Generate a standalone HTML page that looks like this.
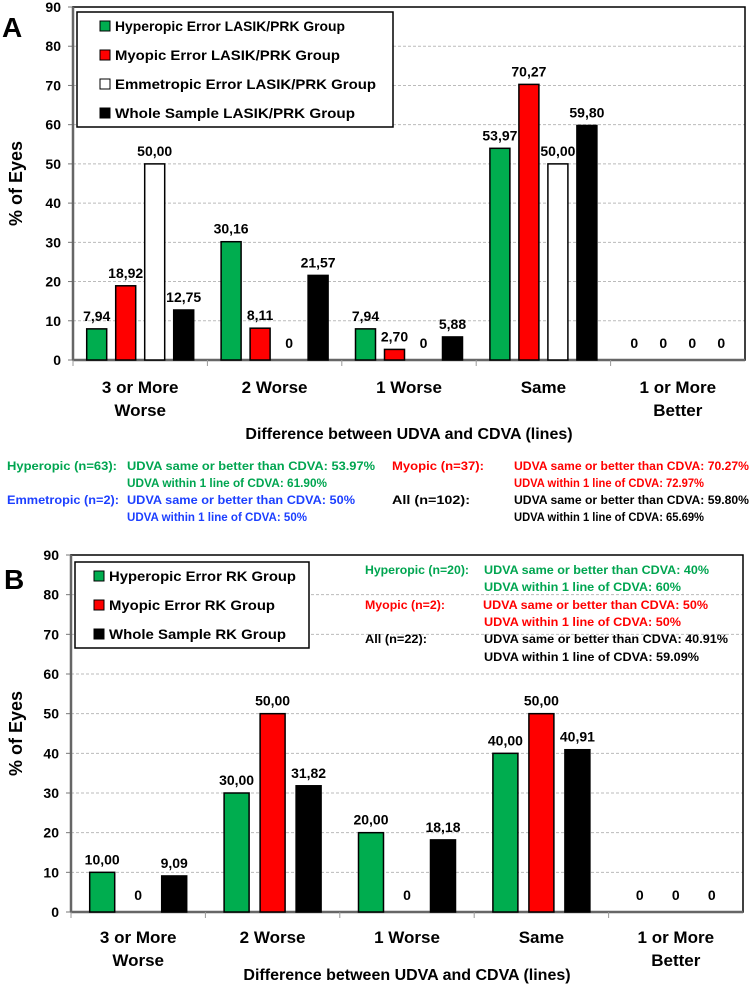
<!DOCTYPE html>
<html><head><meta charset="utf-8">
<style>
html,body{margin:0;padding:0;background:#fff;}
svg{display:block;font-family:"Liberation Sans",Arial,sans-serif;font-weight:bold;}
</style></head>
<body>
<svg id="fig" width="750" height="985" viewBox="0 0 750 985" xmlns="http://www.w3.org/2000/svg">
  <text x="2" y="37" font-size="28">A</text>
  <text x="4" y="589" font-size="28">B</text>
  <g id="chartA"></g>
  <g id="chartB"></g>

  <g font-size="12">
    <text x="7" y="470" fill="#00a550" textLength="110" lengthAdjust="spacingAndGlyphs">Hyperopic (n=63):</text>
    <text x="127" y="470" fill="#00a550" textLength="248" lengthAdjust="spacingAndGlyphs">UDVA same or better than CDVA: 53.97%</text>
    <text x="127" y="487" fill="#00a550" textLength="200" lengthAdjust="spacingAndGlyphs">UDVA within 1 line of CDVA: 61.90%</text>
    <text x="7" y="504" fill="#1c3fff" textLength="112" lengthAdjust="spacingAndGlyphs">Emmetropic (n=2):</text>
    <text x="127" y="504" fill="#1c3fff" textLength="228" lengthAdjust="spacingAndGlyphs">UDVA same or better than CDVA: 50%</text>
    <text x="127" y="521" fill="#1c3fff" textLength="180" lengthAdjust="spacingAndGlyphs">UDVA within 1 line of CDVA: 50%</text>
    <text x="392" y="470" fill="#ff0000" textLength="92" lengthAdjust="spacingAndGlyphs">Myopic (n=37):</text>
    <text x="514" y="470" fill="#ff0000" textLength="235" lengthAdjust="spacingAndGlyphs">UDVA same or better than CDVA: 70.27%</text>
    <text x="514" y="487" fill="#ff0000" textLength="190" lengthAdjust="spacingAndGlyphs">UDVA within 1 line of CDVA: 72.97%</text>
    <text x="392" y="504" fill="#000" textLength="78" lengthAdjust="spacingAndGlyphs">All (n=102):</text>
    <text x="514" y="504" fill="#000" textLength="235" lengthAdjust="spacingAndGlyphs">UDVA same or better than CDVA: 59.80%</text>
    <text x="514" y="521" fill="#000" textLength="190" lengthAdjust="spacingAndGlyphs">UDVA within 1 line of CDVA: 65.69%</text>
  </g>

  <g font-size="12">
    <text x="365" y="574" fill="#00a550" textLength="104" lengthAdjust="spacingAndGlyphs">Hyperopic (n=20):</text>
    <text x="484" y="574" fill="#00a550" textLength="225" lengthAdjust="spacingAndGlyphs">UDVA same or better than CDVA: 40%</text>
    <text x="484" y="591" fill="#00a550" textLength="197" lengthAdjust="spacingAndGlyphs">UDVA within 1 line of CDVA: 60%</text>
    <text x="365" y="609" fill="#ff0000" textLength="80" lengthAdjust="spacingAndGlyphs">Myopic (n=2):</text>
    <text x="483" y="609" fill="#ff0000" textLength="225" lengthAdjust="spacingAndGlyphs">UDVA same or better than CDVA: 50%</text>
    <text x="484" y="626" fill="#ff0000" textLength="197" lengthAdjust="spacingAndGlyphs">UDVA within 1 line of CDVA: 50%</text>
    <text x="365" y="643" fill="#000" textLength="62" lengthAdjust="spacingAndGlyphs">All (n=22):</text>
    <text x="484" y="643" fill="#000" textLength="244" lengthAdjust="spacingAndGlyphs">UDVA same or better than CDVA: 40.91%</text>
    <text x="484" y="661" fill="#000" textLength="215" lengthAdjust="spacingAndGlyphs">UDVA within 1 line of CDVA: 59.09%</text>
  </g>
</svg>
<script>
const categories = [["3 or More","Worse"],["2 Worse"],["1 Worse"],["Same"],["1 or More","Better"]];
const yTicks = [0,10,20,30,40,50,60,70,80,90];
const seriesANames = ["Hyperopic Error LASIK/PRK Group","Myopic Error LASIK/PRK Group","Emmetropic Error LASIK/PRK Group","Whole Sample LASIK/PRK Group"];
const hyperA = [7.94,30.16,7.94,53.97,0];
const myopA = [18.92,8.11,2.70,70.27,0];
const emmetA = [50.00,0,0,50.00,0];
const wholeA = [12.75,21.57,5.88,59.80,0];
const seriesBNames = ["Hyperopic Error RK Group","Myopic Error RK Group","Whole Sample RK Group"];
const hyperB = [10.00,30.00,20.00,40.00,0];
const myopB = [0,50.00,0,50.00,0];
const wholeB = [9.09,31.82,18.18,40.91,0];

const NS = "http://www.w3.org/2000/svg";
function mk(parent, tag, attrs, txt){
  const e = document.createElementNS(NS, tag);
  for (const k in attrs) e.setAttribute(k, attrs[k]);
  if (txt !== undefined) e.textContent = txt;
  parent.appendChild(e);
  return e;
}
function fmt(v){ return v === 0 ? "0" : v.toFixed(2).replace(".", ","); }

function drawChart(g, cfg){
  const {left, right, top, zero, series, colors, names, barW, gap, legend, catY, titleY, prefix} = cfg;
  const yScale = v => zero - (zero - top) * v / 90;
  const catW = (right - left) / categories.length;
  const xCat = i => left + i * catW;
  // gridlines
  yTicks.forEach(t => {
    if (t > 0 && t < 90) {
      const l = mk(g, "line", {x1:left, x2:right, y1:yScale(t), y2:yScale(t), stroke:"#bbb", "stroke-width":1, "stroke-dasharray":"3,2"});
      
      
    }
    const tl = mk(g, "text", {x:left-12, y:yScale(t)+5, "text-anchor":"end", "font-size":14}, String(t));
    
    
    const tk = mk(g, "line", {x1:left-5, x2:left, y1:yScale(t), y2:yScale(t), stroke:"#777", "stroke-width":1});
    
    
  });
  // frame
  const fr = mk(g, "rect", {x:left, y:top, width:right-left, height:zero-top, fill:"none", stroke:"#000", "stroke-width":1.5});
  
  
  const xa = mk(g, "line", {x1:left, x2:right, y1:zero, y2:zero, stroke:"#666", "stroke-width":2.5});
  
  
  const ya = mk(g, "line", {x1:left, x2:left, y1:top, y2:zero, stroke:"#666", "stroke-width":2.5});
  
  
  // bars
  const n = series.length;
  const groupW = n * barW + (n - 1) * gap;
  categories.forEach((c, i) => {
    const tk = mk(g, "line", {x1:xCat(i), x2:xCat(i), y1:zero, y2:zero+6, stroke:"#999", "stroke-width":1});
    
    
    const x0 = xCat(i) + (catW - groupW) / 2;
    series.forEach((s, j) => {
      const v = s[i];
      const bx = x0 + j * (barW + gap);
      if (v > 0) {
        const r = mk(g, "rect", {x:bx, y:yScale(v), width:barW, height:zero-yScale(v), fill:colors[j], stroke:"#000", "stroke-width":1.5});
        
        
      }
      const ly = v > 0 ? yScale(v) - 8 : zero - 12;
      const lb = mk(g, "text", {x:bx+barW/2, y:ly, "text-anchor":"middle", "font-size":14}, fmt(v));
      
      
    });
    c.forEach((line, k) => {
      const cl = mk(g, "text", {x:xCat(i)+catW/2, y:catY + k*23, "text-anchor":"middle", "font-size":17}, line);
      
      
    });
  });
  const xt = mk(g, "text", {x:(left+right)/2, y:titleY, "text-anchor":"middle", "font-size":16}, "Difference between UDVA and CDVA (lines)");
  
  
  const cy = (top + zero) / 2;
  const yt = mk(g, "text", {x:0, y:0, "text-anchor":"middle", "font-size":18, transform:`translate(22,${cy}) rotate(-90)`}, "% of Eyes");
  
  
  // legend
  const lg = mk(g, "g", {});
  
  
  const lr = mk(lg, "rect", {x:legend.x, y:legend.y, width:legend.w, height:legend.h, fill:"#fff", stroke:"#000", "stroke-width":1.5});
  
  
  names.forEach((nm, j) => {
    const yy = legend.y + 14 + j * legend.step;
    const sq = mk(lg, "rect", {x:legend.sx, y:yy-5, width:10, height:10, fill:colors[j], stroke:"#000", "stroke-width":1});
    
    
    const t = mk(lg, "text", {x:legend.sx+15, y:yy+5, "font-size":14, textLength:legend.tl[j], lengthAdjust:"spacingAndGlyphs"}, nm);
    
    
  });
}

drawChart(document.getElementById("chartA"), {
  left:73, right:745, top:7, zero:360,
  series:[hyperA, myopA, emmetA, wholeA],
  colors:["#00ad4f","#ff0000","#ffffff","#000000"],
  names:seriesANames, barW:20, gap:9,
  legend:{x:77, y:12, w:316, h:115, step:29, sx:100, tl:[230,225,261,240]},
  catY:393, titleY:439, prefix:"panel-a"
});
drawChart(document.getElementById("chartB"), {
  left:71, right:743, top:555, zero:912,
  series:[hyperB, myopB, wholeB],
  colors:["#00ad4f","#ff0000","#000000"],
  names:seriesBNames, barW:25, gap:11,
  legend:{x:75, y:562, w:234, h:86, step:29, sx:94, tl:[187,166,177]},
  catY:943, titleY:980, prefix:"panel-b"
});
</script>
</body></html>
